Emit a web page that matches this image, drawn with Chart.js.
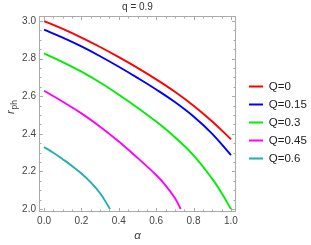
<!DOCTYPE html>
<html><head><meta charset="utf-8">
<script src="https://cdn.jsdelivr.net/npm/chart.js@4"></script>
<style>html,body{margin:0;padding:0;background:#fff}</style>
</head><body>
<canvas id="c" width="311" height="245"></canvas>
<script>
// ---- data ----
const seriesLabels = ['Q=0', 'Q=0.15', 'Q=0.3', 'Q=0.45', 'Q=0.6'];
const seriesColors = ['#ff0000', '#0000ff', '#00ee00', '#ff00ff', '#20b0b0'];

const alphaQ0   = [0, 0.1, 0.2, 0.3, 0.4, 0.5, 0.6, 0.7, 0.8, 0.9, 1.0];
const rphQ0     = [3.000, 2.958, 2.912, 2.862, 2.808, 2.751, 2.690, 2.624, 2.550, 2.466, 2.371];

const alphaQ015 = [0, 0.1, 0.2, 0.3, 0.4, 0.5, 0.6, 0.7, 0.8, 0.9, 1.0];
const rphQ015   = [2.954, 2.912, 2.865, 2.813, 2.757, 2.698, 2.636, 2.569, 2.492, 2.400, 2.287];

const alphaQ03  = [0, 0.1, 0.2, 0.3, 0.4, 0.5, 0.6, 0.7, 0.8, 0.9, 0.95, 1.0];
const rphQ03    = [2.828, 2.782, 2.731, 2.673, 2.608, 2.539, 2.465, 2.382, 2.285, 2.160, 2.085, 2.000];

const alphaQ045 = [0, 0.1, 0.2, 0.3, 0.4, 0.5, 0.6, 0.65, 0.7, 0.731];
const rphQ045   = [2.629, 2.571, 2.509, 2.438, 2.359, 2.272, 2.181, 2.126, 2.058, 2.000];

const alphaQ06  = [0, 0.05, 0.1, 0.15, 0.2, 0.25, 0.3, 0.353];
const rphQ06    = [2.330, 2.299, 2.265, 2.229, 2.189, 2.142, 2.084, 2.000];

const xTicks = [0.0, 0.2, 0.4, 0.6, 0.8, 1.0];
const yTicks = [2.0, 2.2, 2.4, 2.6, 2.8, 3.0];
const titleText = 'q = 0.9';
const xTitle = 'α';
const yTitleMain = 'r';
const yTitleSub = 'ph';

// ---- chart ----
const FONT = "'Liberation Sans', Arial, sans-serif";
const allX = [alphaQ0, alphaQ015, alphaQ03, alphaQ045, alphaQ06];
const allY = [rphQ0, rphQ015, rphQ03, rphQ045, rphQ06];

const datasets = seriesLabels.map((lab, k) => ({
  label: lab,
  data: allX[k].map((x, i) => ({x: x, y: allY[k][i]})),
  borderColor: seriesColors[k],
  backgroundColor: seriesColors[k],
  borderWidth: 1.9,
  pointRadius: 0,
  tension: 0.4,
  fill: false,
  yAxisID: 'y'
}));

const framePlugin = {
  id: 'frame',
  afterDraw(chart) {
    const {ctx, chartArea: a, scales} = chart;
    const xs = scales.x, ys = scales.y;
    ctx.save();
    ctx.strokeStyle = '#aaaaaa';
    ctx.lineWidth = 1;
    ctx.strokeRect(Math.round(a.left) + 0.5, Math.round(a.top) + 0.5,
                   Math.round(a.right - a.left) - 1, Math.round(a.bottom - a.top) - 1);
    ctx.beginPath();
    for (let i = 0; i <= 20; i++) {
      const v = i * 0.05;
      const L = (i % 4 === 0) ? 4 : 2.5;
      const px = Math.round(xs.getPixelForValue(v)) + 0.5;
      ctx.moveTo(px, a.bottom); ctx.lineTo(px, a.bottom - L);
      ctx.moveTo(px, a.top); ctx.lineTo(px, a.top + L);
      const py = Math.round(ys.getPixelForValue(2 + v)) + 0.5;
      ctx.moveTo(a.left, py); ctx.lineTo(a.left + L, py);
      ctx.moveTo(a.right, py); ctx.lineTo(a.right - L, py);
    }
    ctx.stroke();
    // y axis title with subscript
    ctx.fillStyle = '#444';
    ctx.textAlign = 'left';
    ctx.textBaseline = 'alphabetic';
    ctx.font = 'italic 11.5px ' + FONT;
    const w1 = ctx.measureText(yTitleMain).width;
    ctx.font = '8.5px ' + FONT;
    const w2 = ctx.measureText(yTitleSub).width;
    const total = w1 + 0.5 + w2;
    const cy = 107;
    ctx.translate(a.left - 25, cy + total / 2);
    ctx.rotate(-Math.PI / 2);
    ctx.font = 'italic 11.5px ' + FONT;
    ctx.fillText(yTitleMain, 0, 0);
    ctx.font = '8.5px ' + FONT;
    ctx.fillText(yTitleSub, w1 + 0.5, 2.5);
    ctx.restore();
  }
};

new Chart(document.getElementById('c'), {
  type: 'line',
  data: {datasets},
  options: {
    responsive: false,
    animation: false,
    layout: {padding: 0},
    scales: {
      x: {
        type: 'linear', min: -0.027, max: 1.027,
        afterBuildTicks: s => { s.ticks = xTicks.map(v => ({value: v})); },
        ticks: {callback: v => Number(v).toFixed(1), font: {family: FONT, size: 10}, color: '#444', padding: 3, maxRotation: 0, autoSkip: false},
        grid: {display: false, drawTicks: false},
        border: {display: false},
        title: {display: true, text: xTitle, font: {family: FONT, size: 11.5, style: 'italic'}, color: '#444', padding: {top: 0, bottom: 2.5}},
        afterFit: s => { s.height = 33; }
      },
      y: {
        type: 'linear', min: 1.984, max: 3.027,
        afterBuildTicks: s => { s.ticks = yTicks.map(v => ({value: v})); },
        ticks: {callback: v => Number(v).toFixed(1), font: {family: FONT, size: 10}, color: '#444', padding: 3, autoSkip: false},
        grid: {display: false, drawTicks: false},
        border: {display: false},
        afterFit: s => { s.width = 39; }
      },
      y2: {
        type: 'linear', position: 'right', display: true,
        grid: {display: false, drawTicks: false},
        border: {display: false},
        ticks: {display: false},
        afterFit: s => { s.width = 6.5; }
      }
    },
    plugins: {
      title: {display: true, text: titleText, fullSize: false, font: {family: FONT, size: 10, weight: 'normal'}, color: '#333', padding: {top: 1, bottom: 3}},
      legend: {
        position: 'right',
        maxWidth: 68.5,
        labels: {
          boxWidth: 14, boxHeight: 2, padding: 6.5,
          font: {family: FONT, size: 11.5}, color: '#222',
          generateLabels: chart => Chart.defaults.plugins.legend.labels.generateLabels(chart)
            .map(l => Object.assign(l, {lineWidth: 0, fillStyle: l.strokeStyle}))
        }
      },
      tooltip: {enabled: false}
    }
  },
  plugins: [framePlugin]
});
</script>
</body></html>
